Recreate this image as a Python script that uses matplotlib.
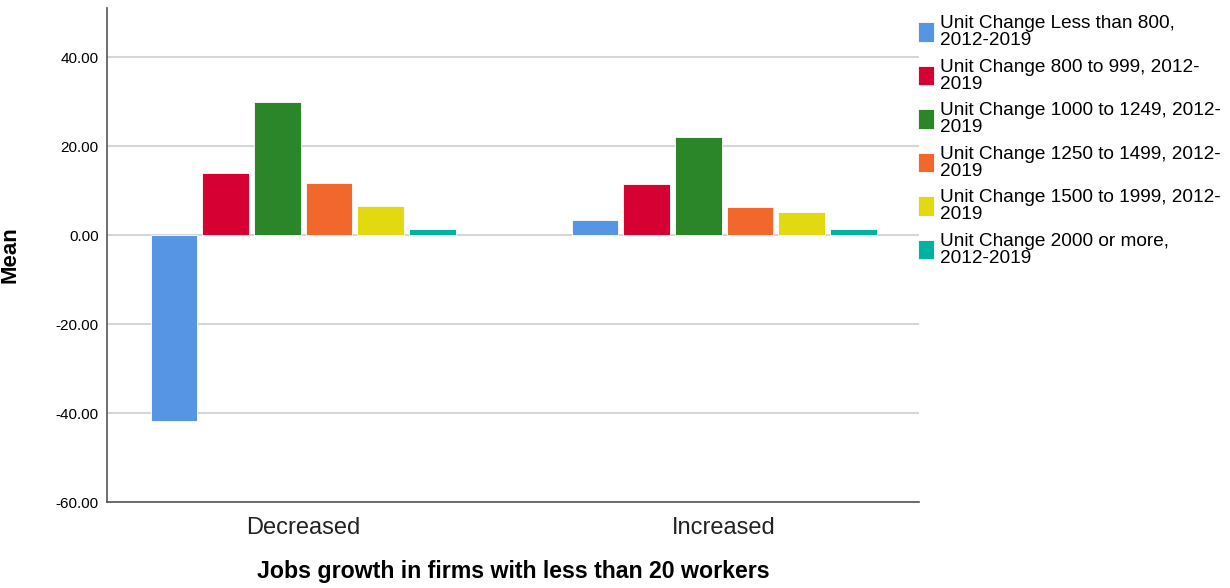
import matplotlib
matplotlib.use('Agg')
import matplotlib.pyplot as plt
import numpy as np

plt.rcParams['font.family'] = ['Liberation Sans', 'DejaVu Sans']

# data
categorias = ['Decreased', 'Increased']
series = [
    'Unit Change Less than 800,\n2012-2019',
    'Unit Change 800 to 999, 2012-\n2019',
    'Unit Change 1000 to 1249, 2012-\n2019',
    'Unit Change 1250 to 1499, 2012-\n2019',
    'Unit Change 1500 to 1999, 2012-\n2019',
    'Unit Change 2000 or more,\n2012-2019',
]
decreased = [-41.7, 13.9, 30.0, 11.8, 6.5, 1.4]
increased = [3.4, 11.6, 22.1, 6.3, 5.2, 1.5]
cores = ['#5694E4', '#D60032', '#2B8629', '#F2682C', '#E2D911', '#00B3A0']

fig = plt.figure(figsize=(12.3, 5.88), dpi=100)
ax = fig.add_axes([107 / 1230, 1 - 502 / 588, 812 / 1230, 494 / 588])

x = np.arange(len(categorias))
passo = 0.1228
largura = 0.111
for i, (nome, cor) in enumerate(zip(series, cores)):
    valores = [decreased[i], increased[i]]
    ax.bar(x + (i - 2.5) * passo, valores, width=largura, color=cor,
           edgecolor='white', linewidth=0.6, label=nome, zorder=3)

ax.set_xlim(-0.466, 1.463)
ax.set_ylim(-60, 51.1)
ax.set_yticks([-60, -40, -20, 0, 20, 40])
ax.set_yticklabels([f'{v:.2f}' for v in [-60, -40, -20, 0, 20, 40]], fontsize=11)
ax.set_xticks(x)
ax.set_xticklabels(categorias, fontsize=17, color='#222222')
ax.tick_params(axis='y', length=0, pad=6)
ax.tick_params(axis='x', length=0, pad=11)

ax.yaxis.grid(True, color='#D6D6D6', linewidth=1.5, zorder=0)
ax.set_axisbelow(True)
for s in ['top', 'right']:
    ax.spines[s].set_visible(False)
for s in ['left', 'bottom']:
    ax.spines[s].set_color('#555555')
    ax.spines[s].set_linewidth(1.2)

ax.set_ylabel('Mean', fontsize=16, fontweight='bold')
ax.yaxis.set_label_coords(-0.106, 0.5)
ax.set_xlabel('Jobs growth in firms with less than 20 workers', fontsize=16.7,
              fontweight='bold', labelpad=15)

leg = ax.legend(loc='upper left', bbox_to_anchor=(918 / 1230, 1 - 15 / 588),
                bbox_transform=fig.transFigure, frameon=False, fontsize=13.7,
                handlelength=0.85, handleheight=1.2, handletextpad=0.3,
                labelspacing=0.5, borderpad=0, borderaxespad=0)
for t in leg.get_texts():
    t.set_linespacing(1.0)

fig.savefig('out.png', dpi=100)
